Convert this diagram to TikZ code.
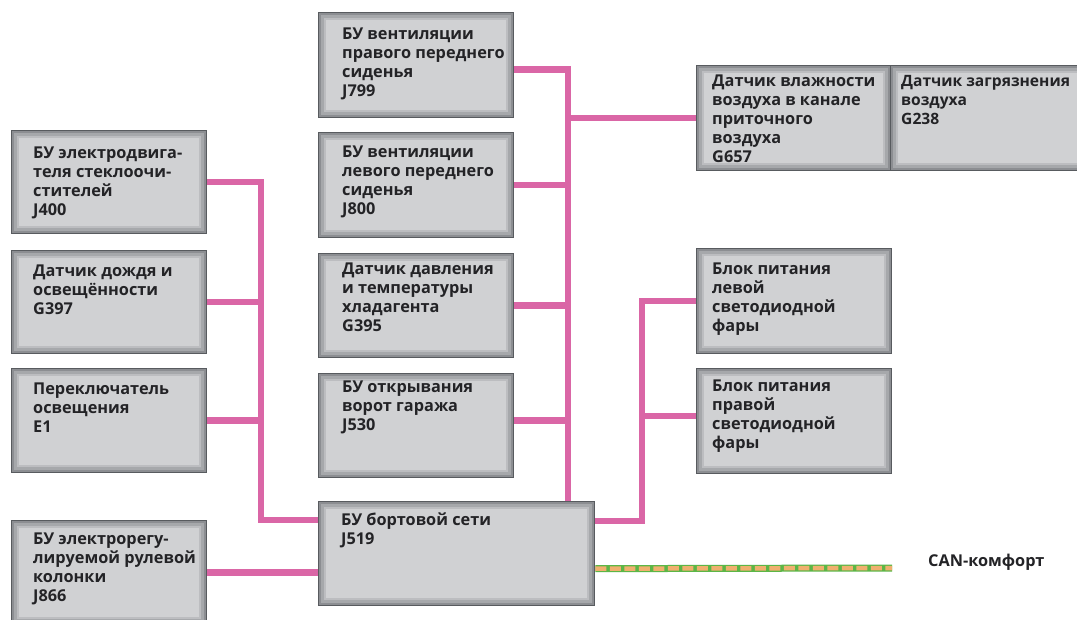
\documentclass[tikz,border=0pt]{standalone}
\usepackage{fontspec}
\setmainfont{Open Sans}
\definecolor{pinkline}{RGB}{218,102,166}
\definecolor{boxedge}{RGB}{88,91,95}
\definecolor{boxfill}{RGB}{208,209,211}
\definecolor{shA}{RGB}{140,142,146}
\definecolor{shB}{RGB}{166,168,171}
\definecolor{shC}{RGB}{188,189,192}
\definecolor{cangreen}{RGB}{92,182,70}
\definecolor{canorange}{RGB}{240,176,110}
\definecolor{txtcol}{RGB}{35,35,38}
\tikzset{
  box/.style={draw=boxedge, line width=1.3pt, fill=boxfill, inner sep=0pt,
    path picture={
      \foreach \d/\c in {1.5/shA,4/shB,6.5/shC}{
        \draw[\c, line width=2.6pt]
          ([shift={(\d*1pt,-\d*1pt)}]path picture bounding box.north west)
          rectangle ([shift={(-\d*1pt,\d*1pt)}]path picture bounding box.south east);
      }
    }},
  lbl/.style={inner sep=0pt, align=left, text=txtcol,
    font=\bfseries\fontsize{16.3}{19}\selectfont},
  pk/.style={draw=pinkline, line width=6.5pt},
}
\newcommand\mybox[8]{%
  \node[box, anchor=north west, minimum width=#4pt, minimum height=#5pt] (#1) at (#2,#3) {};
  \node[lbl, anchor=north west] (#1t) at ([xshift=#6pt,yshift=-#7pt]#1.north west) {#8};
}
\begin{document}
\begin{tikzpicture}[x=1pt,y=-1pt]
\useasboundingbox (0,0) rectangle (1077,619);
\fill[white] (0,0) rectangle (1077,619);
\clip (0,0) rectangle (1077,619);

% boxes
\mybox{j400}{11}{130}{195}{103}{22}{17}{БУ электродвига-\\теля стеклоочи-\\стителей\\J400}
\mybox{g397}{11}{250}{195}{103}{22}{15}{Датчик дождя и\\освещённости\\G397}
\mybox{e1}{11}{368}{195}{104}{22}{15}{Переключатель\\освещения\\E1}
\mybox{j866}{11}{520}{195}{104}{22}{13}{БУ электрорегу-\\лируемой рулевой\\колонки\\J866}

\mybox{j799}{318}{12}{195}{105}{24}{16}{БУ вентиляции\\правого переднего\\сиденья\\J799}
\mybox{j800}{318}{132}{195}{105}{24}{14}{БУ вентиляции\\левого переднего\\сиденья\\J800}
\mybox{g395}{318}{253}{195}{104}{24}{10}{Датчик давления\\и температуры\\хладагента\\G395}
\mybox{j530}{318}{373}{195}{104}{24}{8}{БУ открывания\\ворот гаража\\J530}
\mybox{j519}{318}{501}{276}{104}{23}{12}{БУ бортовой сети\\J519}

\mybox{g657}{696}{65}{194}{105}{16}{10}{Датчик влажности\\воздуха в канале\\приточного\\воздуха\\G657}
\node[box, anchor=north west, minimum width=200pt, minimum height=105pt] (g238) at (890,65) {};
\node[lbl, anchor=north west, font=\bfseries\fontsize{15.6}{19}\selectfont] (g238t)
  at ([xshift=11pt,yshift=-10pt]g238.north west) {Датчик загрязнения\\воздуха\\G238};
\mybox{ledl}{696}{248}{195}{105}{16}{15}{Блок питания\\левой\\светодиодной\\фары}
\mybox{ledr}{696}{368}{195}{105}{16}{12}{Блок питания\\правой\\светодиодной\\фары}

% bus coordinates
\coordinate (lbx) at (261,0);
\coordinate (mbx) at (568,0);
\coordinate (rbx) at (642,0);
\coordinate (j519l) at ([yshift=-19pt]j519.north west);
\coordinate (j519r) at ([yshift=-20pt]j519.north east);
\coordinate (j519c) at ([yshift=-15pt]j519.east);
\coordinate (canend) at (892,568);

% left bus
\draw[pk] (j400.east) -| (lbx |- j519l) -- (j519l);
\draw[pk] (g397.east) -- (g397.east -| lbx);
\draw[pk] (e1.east) -- (e1.east -| lbx);
\draw[pk] (j866.east) -- (j866.east -| j519.west);

% middle bus
\draw[pk] ([yshift=-4.5pt]j799.east) -| (mbx |- j519.north);
\draw[pk] (j800.east) -- (j800.east -| mbx);
\draw[pk] (g395.east) -- (g395.east -| mbx);
\draw[pk] ([yshift=5pt]j530.east) -- ([yshift=5pt]j530.east -| mbx);
\draw[pk] (g657.west) -- (g657.west -| mbx);

% right bus
\draw[pk] (j519r) -| (rbx |- ledl.west) -- (ledl.west);
\draw[pk] ([yshift=5pt]ledr.west) -- ([yshift=5pt]ledr.west -| rbx);

% CAN
\draw[cangreen, line width=7pt] (j519c) -- (canend);
\draw[canorange, line width=4.5pt, dash pattern=on 11pt off 3.5pt] (j519c) -- (canend);
\node[lbl, anchor=west] (canlbl) at (928,562) {CAN-комфорт};
\end{tikzpicture}
\end{document}
